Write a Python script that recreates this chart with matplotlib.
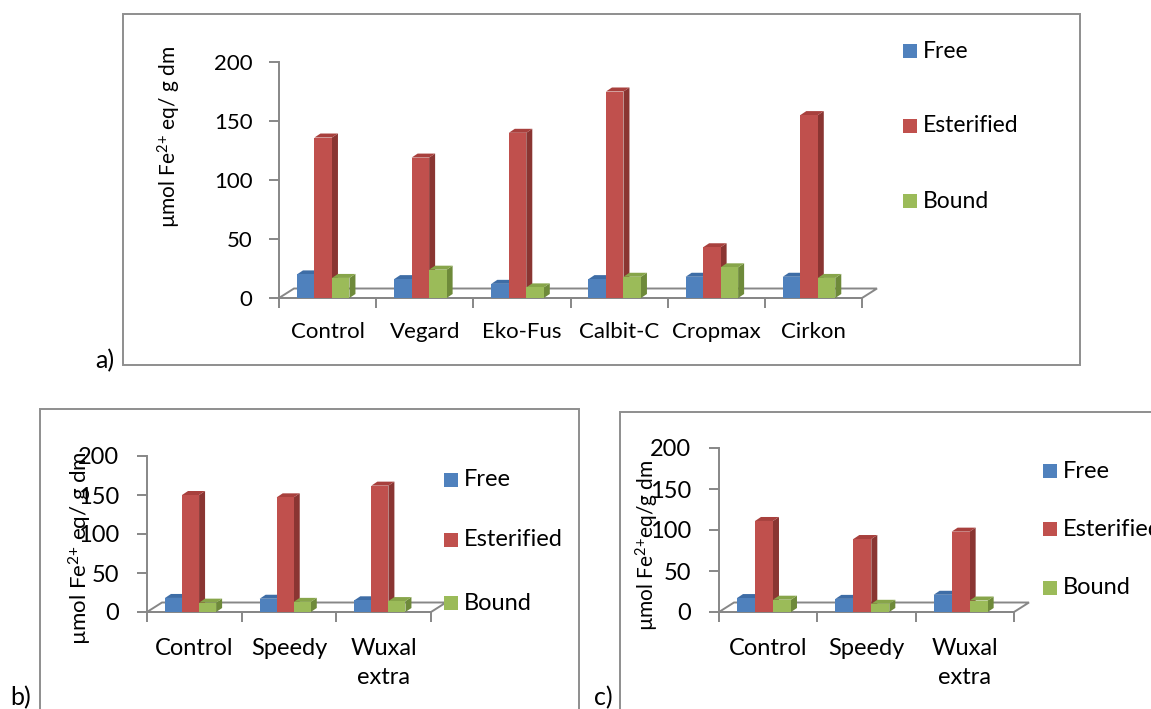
import matplotlib
matplotlib.use("Agg")
import matplotlib.pyplot as plt
from matplotlib.patches import Rectangle, Polygon
import numpy as np

plt.rcParams['font.family'] = ['Lato', 'DejaVu Sans']
plt.rcParams['mathtext.fontset'] = 'custom'
plt.rcParams['mathtext.rm'] = 'Lato'
plt.rcParams['mathtext.it'] = 'Lato:italic'

# ---------------- data ----------------
series_names = ["Free", "Esterified", "Bound"]

cats_a = ["Control", "Vegard", "Eko-Fus", "Calbit-C", "Cropmax", "Cirkon"]
free_a = [20, 16, 12, 16, 18, 18]
ester_a = [136, 119, 140, 175, 43, 155]
bound_a = [17, 24, 9, 18, 26, 17]

cats_b = ["Control", "Speedy", "Wuxal\nextra"]
free_b = [18, 17, 15]
ester_b = [150, 147, 162]
bound_b = [12, 13, 14]

cats_c = ["Control", "Speedy", "Wuxal\nextra"]
free_c = [17, 16, 21]
ester_c = [111, 89, 98]
bound_c = [15, 10, 14]

yticks = [0, 50, 100, 150, 200]

# ---------------- style ----------------
W, H = 1151, 709
front_cols = ["#4F81BD", "#C0504D", "#9BBB59"]
top_cols = ["#3E6DA6", "#A8403D", "#87A54A"]
side_cols = ["#355C8C", "#8A3532", "#6E8A3A"]
GRAY = "#878787"

fig = plt.figure(figsize=(W / 100, H / 100), dpi=100)


def fx(x):
    return x / W


def fy(y):
    return 1 - y / H


def panel(x0, x1, y0, y200, cats, vals, bar_off, bar_w, tick_fs, legend_pos,
          ylabel, ylabel_pos, ylabel_fs, xpad, ypad):
    n = len(cats)
    ax = fig.add_axes([fx(x0), fy(y0), (x1 - x0) / W, (y0 - y200) / H])
    ax.set_xlim(0, n)
    ax.set_ylim(0, 200)
    ax.patch.set_alpha(0)
    for s in ["top", "right"]:
        ax.spines[s].set_visible(False)
    for s in ["left", "bottom"]:
        ax.spines[s].set_color(GRAY)
        ax.spines[s].set_linewidth(1.4)
    ax.set_yticks(yticks)
    ax.set_yticklabels([str(t) for t in yticks], fontsize=tick_fs)
    ax.set_xticks(np.arange(n + 1))
    ax.set_xticklabels([])
    ax.set_xticks(np.arange(n) + 0.5, minor=True)
    ax.set_xticklabels(cats, minor=True, fontsize=tick_fs, linespacing=1.45)
    ax.tick_params(axis="y", length=7, width=1.4, color=GRAY, pad=ypad)
    ax.tick_params(axis="x", which="major", length=7, width=1.4, color=GRAY)
    ax.tick_params(axis="x", which="minor", length=0, pad=xpad)

    # pixel -> data conversion
    ppx = (x1 - x0) / n
    ppy = (y0 - y200) / 200.0
    # floor (3D)
    fdx, fdy = 15 / ppx, 9.5 / ppy
    floor = Polygon([(0, 0), (fdx, fdy), (n + fdx, fdy), (n, 0)], closed=True,
                    fill=False, ec=GRAY, lw=1.4, clip_on=False, zorder=1)
    ax.add_patch(floor)
    # bars
    bdx, bdy = 6 / ppx, 4 / ppy
    for j, v in enumerate(vals):
        xs = np.arange(n) + bar_off + j * bar_w
        for i in range(n):
            xl = xs[i]
            xr = xl + bar_w
            h = v[i]
            side = Polygon([(xr, 0), (xr + bdx, bdy), (xr + bdx, h + bdy), (xr, h)],
                           closed=True, fc=side_cols[j], ec="none",
                           clip_on=False, zorder=3 + j)
            top = Polygon([(xl, h), (xl + bdx, h + bdy), (xr + bdx, h + bdy), (xr, h)],
                          closed=True, fc=top_cols[j], ec="none",
                          clip_on=False, zorder=3 + j)
            ax.add_patch(side)
            ax.add_patch(top)
        ax.bar(xs, v, width=bar_w, align="edge", color=front_cols[j],
               edgecolor="none", zorder=3.5 + j, clip_on=False)

    # legend
    (lx, ly_list, lfs) = legend_pos
    for j, name in enumerate(series_names):
        ly = ly_list[j]
        fig.add_artist(Rectangle((fx(lx), fy(ly + 7)), 14 / W, 14 / H,
                                 transform=fig.transFigure, fc=front_cols[j], ec="none"))
        fig.text(fx(lx + 20), fy(ly), name, fontsize=lfs, ha="left", va="center")

    fig.text(fx(ylabel_pos[0]), fy(ylabel_pos[1]), ylabel, rotation=90,
             ha="center", va="center", fontsize=ylabel_fs)
    return ax


def box(x0, y0, x1, y1):
    fig.add_artist(Rectangle((fx(x0), fy(y1)), (x1 - x0) / W, (y1 - y0) / H,
                             transform=fig.transFigure, fill=False, ec="#8E8E8E", lw=1.4))


# panel a
box(123, 14, 1080, 365)
panel(279, 862, 298, 62, cats_a, [free_a, ester_a, bound_a], 0.185, 0.18, 16,
      (903, [51, 126, 201], 16.5), r"µmol Fe$^{2{+}}$ eq/ g dm", (169, 137), 15, 17, 12)
fig.text(fx(95), fy(368), "a)", fontsize=18, ha="left", va="baseline")

# panel b
box(40, 409, 579, 720)
panel(147, 431, 612, 456, cats_b, [free_b, ester_b, bound_b], 0.19, 0.18, 17,
      (444, [480, 540, 603], 17), r"µmol Fe$^{2{+}}$ eq/ g dm", (80, 548), 16, 19, 13)
fig.text(fx(10), fy(705), "b)", fontsize=18, ha="left", va="baseline")

# panel c
box(620, 412, 1160, 720)
panel(719, 1014, 612, 448, cats_c, [free_c, ester_c, bound_c], 0.183, 0.183, 17,
      (1043, [471, 529, 588], 17), r"µmol Fe$^{2{+}}$eq/g dm", (647, 545), 15, 19, 13)
fig.text(fx(594), fy(705), "c)", fontsize=18, ha="left", va="baseline")

fig.savefig("out.png", dpi=100)
